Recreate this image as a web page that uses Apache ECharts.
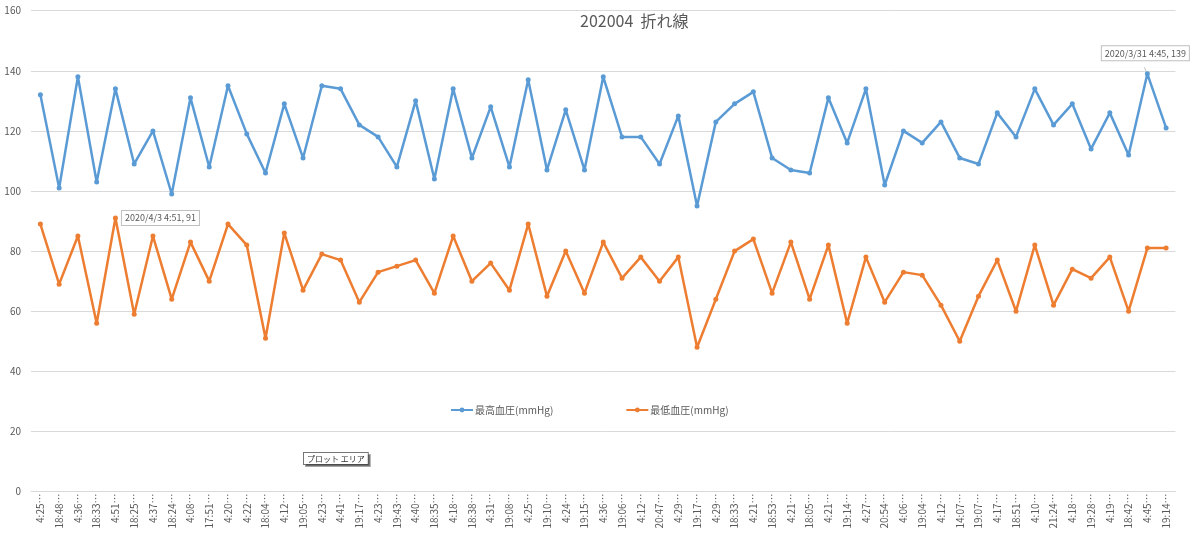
<!DOCTYPE html>
<html>
<head>
<meta charset="utf-8">
<title>202004 折れ線</title>
<script src="https://cdn.jsdelivr.net/npm/echarts@6/dist/echarts.min.js"></script>
<style>
    html, body { margin: 0; padding: 0; background: #fff; }
    #chartsBox { width: 1200px; height: 535px; }
</style>
</head>
<body>
<div id="chartsBox"></div>
<script>
// 測定時刻（カテゴリ）
var times = ["4:25", "18:48", "4:36", "18:33", "4:51", "18:25", "4:37", "18:24", "4:08", "17:51",
    "4:20", "4:22", "18:04", "4:12", "19:05", "4:23", "4:41", "19:17", "4:23", "19:43",
    "4:40", "18:35", "4:18", "18:38", "4:31", "19:08", "4:25", "19:10", "4:24", "19:15",
    "4:36", "19:06", "4:12", "20:47", "4:29", "19:17", "4:29", "18:33", "4:21", "18:53",
    "4:21", "18:05", "4:21", "19:14", "4:27", "20:54", "4:06", "19:04", "4:12", "14:07",
    "19:07", "4:17", "18:51", "4:10", "21:24", "4:18", "19:28", "4:19", "18:42", "4:45",
    "19:14"];

// 最高血圧
var highBP = [132, 101, 138, 103, 134, 109, 120, 99, 131, 108,
    135, 119, 106, 129, 111, 135, 134, 122, 118, 108,
    130, 104, 134, 111, 128, 108, 137, 107, 127, 107,
    138, 118, 118, 109, 125, 95, 123, 129, 133, 111,
    107, 106, 131, 116, 134, 102, 120, 116, 123, 111,
    109, 126, 118, 134, 122, 129, 114, 126, 112, 139,
    121];

// 最低血圧
var lowBP = [89, 69, 85, 56, 91, 59, 85, 64, 83, 70,
    89, 82, 51, 86, 67, 79, 77, 63, 73, 75,
    77, 66, 85, 70, 76, 67, 89, 65, 80, 66,
    83, 71, 78, 70, 78, 48, 64, 80, 84, 66,
    83, 64, 82, 56, 78, 63, 73, 72, 62, 50,
    65, 77, 60, 82, 62, 74, 71, 78, 60, 81,
    81];

var yTicks = { min: 0, max: 160, interval: 20 };

// データラベル（吹き出し）
var highCallout = { index: 59, text: "2020/3/31 4:45, 139" };
var lowCallout = { index: 4, text: "2020/4/3 4:51, 91" };

var textColor = "#595959";
var fontFamily = "'Noto Sans CJK JP', 'Noto Sans', sans-serif";

var calloutLabel = {
    show: true,
    color: textColor,
    fontSize: 9,
    fontFamily: fontFamily,
    backgroundColor: "#fff",
    borderColor: "#bfbfbf",
    borderWidth: 1,
    padding: [3, 3, 2, 3]
};

function $extend(a, b) {
    var o = {};
    for (var k in a) o[k] = a[k];
    for (var k2 in b) o[k2] = b[k2];
    return o;
}

//吹き出し付きのデータを組み立てる
function buildData(values, callout, labelPos) {
    var list = [];
    for (var i = 0; i < values.length; i++) {
        if (i === callout.index) {
            list.push({
                value: values[i],
                label: $extend(calloutLabel, {
                    position: labelPos.position,
                    distance: labelPos.distance,
                    offset: labelPos.offset,
                    formatter: callout.text
                })
            });
        } else {
            list.push(values[i]);
        }
    }
    return list;
}

var chart = echarts.init(document.getElementById("chartsBox"));

var option = {
    backgroundColor: "#fff",
    animation: false,
    textStyle: { fontFamily: fontFamily },
    title: {
        text: "202004  折れ線",
        left: 575,
        top: 8,
        textStyle: { color: textColor, fontSize: 16, fontWeight: "normal", fontFamily: fontFamily }
    },
    legend: {
        left: 445,
        top: 400,
        itemWidth: 22,
        itemHeight: 6,
        itemGap: 72,
        textStyle: { color: textColor, fontSize: 10, fontFamily: fontFamily, padding: [0, 0, 0, -3] },
        data: ["最高血圧(mmHg)", "最低血圧(mmHg)"]
    },
    grid: {
        left: 31,
        right: 24.5,
        top: 10.7,
        bottom: 43.5
    },
    xAxis: {
        type: "category",
        data: times,
        boundaryGap: true,
        axisLine: { lineStyle: { color: "#d9d9d9" } },
        axisTick: { show: false },
        axisLabel: {
            rotate: 90,
            interval: 0,
            margin: 2,
            color: textColor,
            fontSize: 10,
            fontFamily: fontFamily,
            formatter: function (v) { return v + "…"; }
        }
    },
    yAxis: {
        type: "value",
        min: yTicks.min,
        max: yTicks.max,
        interval: yTicks.interval,
        axisLine: { show: false },
        axisTick: { show: false },
        splitLine: { lineStyle: { color: "#d9d9d9" } },
        axisLabel: { color: textColor, fontSize: 10, margin: 10, fontFamily: fontFamily }
    },
    series: [
        {
            name: "最高血圧(mmHg)",
            type: "line",
            data: buildData(highBP, highCallout, { position: "top", distance: 11, offset: [-2, 0] }),
            symbol: "circle",
            symbolSize: 5,
            itemStyle: { color: "#5b9bd5" },
            lineStyle: { color: "#5b9bd5", width: 2.5 },
            labelLine: { show: true, lineStyle: { color: "#bfbfbf" } },
            z: 3
        },
        {
            name: "最低血圧(mmHg)",
            type: "line",
            data: buildData(lowBP, lowCallout, { position: "right", distance: 4, offset: [0, 0] }),
            symbol: "circle",
            symbolSize: 5,
            itemStyle: { color: "#ed7d31" },
            lineStyle: { color: "#ed7d31", width: 2.5 },
            z: 3
        }
    ],
    graphic: [
        {
            type: "text",
            left: 303,
            top: 452,
            style: {
                text: "プロット エリア",
                fill: "#333",
                fontSize: 8,
                fontFamily: fontFamily,
                backgroundColor: "#fff",
                borderColor: "#767676",
                borderWidth: 1,
                padding: [2, 3, 1, 3],
                shadowOffsetX: 2,
                shadowOffsetY: 2,
                shadowColor: "rgba(0,0,0,0.35)"
            }
        }
    ]
};

chart.setOption(option);
</script>
</body>
</html>
